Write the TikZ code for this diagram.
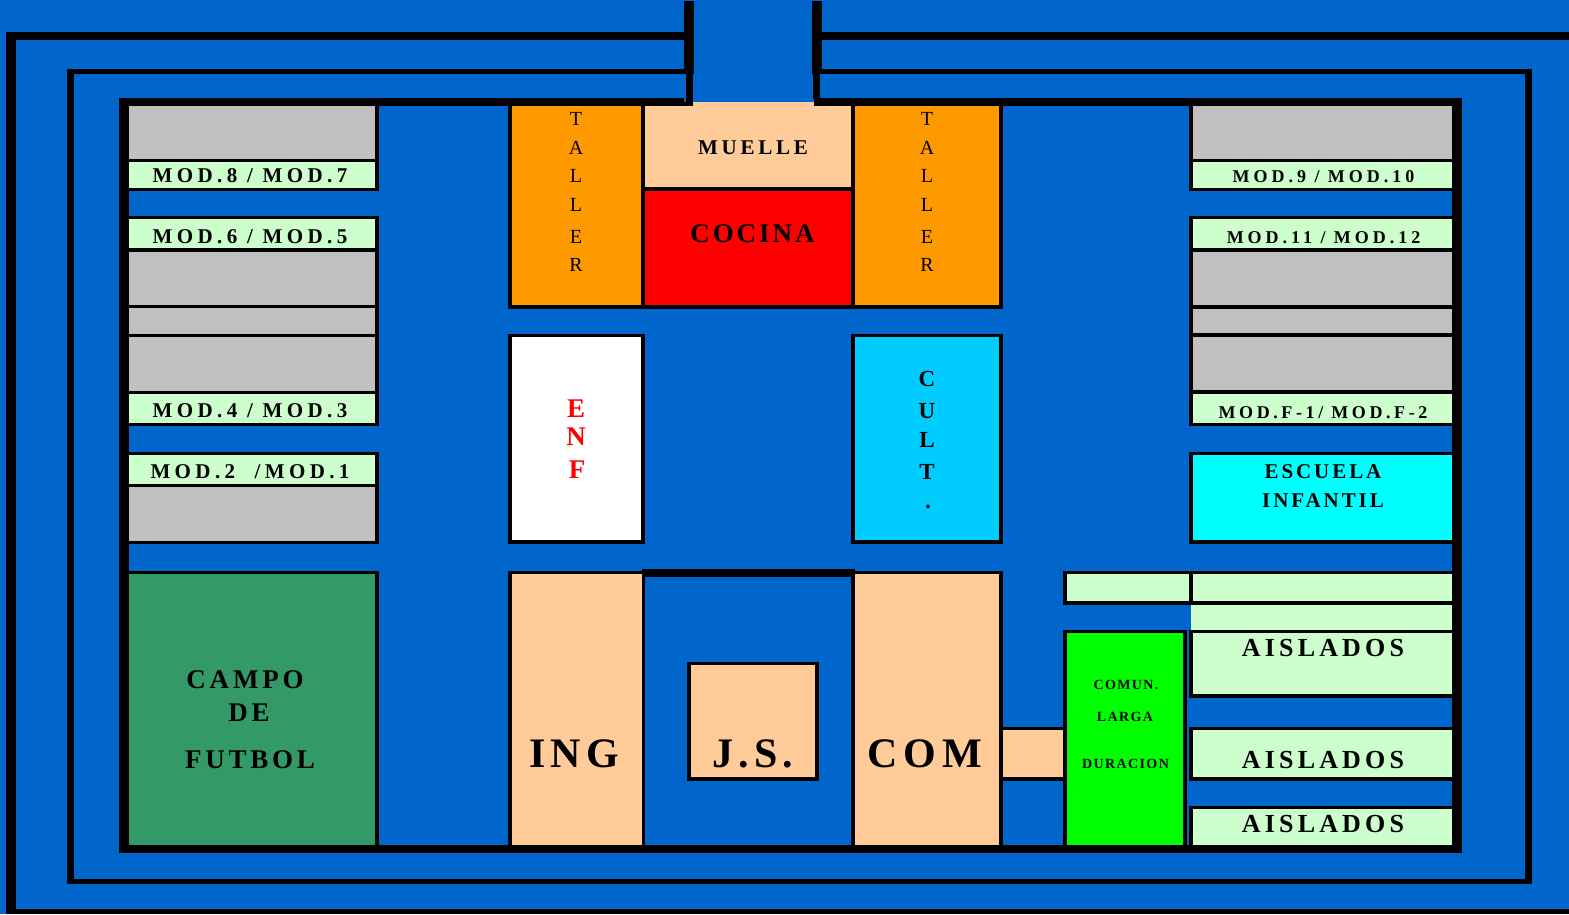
\documentclass[tikz,border=0pt]{standalone}
\usepackage{fontspec}
\setmainfont{Liberation Serif}
\definecolor{patio}{HTML}{0066CC}
\definecolor{gris}{HTML}{C0C0C0}
\definecolor{menta}{HTML}{CCFFCC}
\definecolor{naranja}{HTML}{FF9900}
\definecolor{melocoton}{HTML}{FFCC99}
\definecolor{cesped}{HTML}{339966}
\definecolor{celeste}{HTML}{00CCFF}
\definecolor{cian}{HTML}{00FFFF}
\definecolor{lima}{HTML}{00FF00}
\tikzset{
  rot/.style 2 args={font=\fontsize{#1}{#1}\selectfont\bfseries\addfontfeature{LetterSpace=#2},
    anchor=base,inner sep=0pt},
  fino/.style={font=\fontsize{20}{20}\selectfont,anchor=base,inner sep=0pt}
}
\begin{document}
\begin{tikzpicture}[x=1pt,y=-1pt]
\useasboundingbox (0,0) rectangle (1569,914);
\fill[patio] (0,0) rectangle (1569,914);

% muros
\fill[black] (6,32) rectangle (1569,914);
\fill[patio] (16,40) rectangle (1569,909);
\fill[black] (67,69) rectangle (1532,884);
\fill[patio] (74,74) rectangle (1525,879);
\fill[black] (119,98) rectangle (1462,853);
\fill[patio] (129,106) rectangle (1452,845);
\fill[patio] (684,0) rectangle (822,102);
\foreach \xa/\ya/\xb/\yb in {684/1/694/74, 686/74/693/106, 812/1/822/74, 813/74/820/99, 814/98/822/106}
  \fill[black] (\xa,\ya) rectangle (\xb,\yb);

% pabellones, primero en negro
\foreach \xa/\ya/\xb/\yb in {
  125/106/379/191, 125/216/379/426, 125/452/379/544, 125/571/379/849,
  1189/159/1456/191, 1189/216/1456/426, 1189/452/1456/544, 1189/106/1193/159,
  508/102/693/309, 814/102/1003/309, 693/106/814/309, 508/334/645/544, 851/334/1003/544,
  508/571/645/849, 642/569/855/577, 851/571/1003/849, 687/662/819/781,
  1003/727/1063/781, 1063/571/1193/605, 1189/571/1456/605,
  1063/630/1187/849, 1189/630/1456/698, 1189/727/1456/781, 1189/806/1456/849}
  \fill[black] (\xa,\ya) rectangle (\xb,\yb);

% relleno
\foreach \xa/\ya/\xb/\yb/\col in {
  129/106/375/159/gris, 129/162/375/188/menta,
  129/219/375/248/menta, 129/252/375/305/gris, 129/308/375/334/gris, 129/337/375/391/gris, 129/394/375/423/menta,
  129/455/375/484/menta, 129/487/375/541/gris, 129/574/375/845/cesped,
  1193/106/1452/159/gris, 1193/162/1452/188/menta,
  1193/219/1452/248/menta, 1193/252/1452/305/gris, 1193/309/1452/333/gris, 1193/337/1452/390/gris, 1193/394/1452/423/menta,
  1193/455/1452/540/cian,
  512/106/641/305/naranja, 855/106/999/305/naranja,
  645/106/851/187/melocoton, 693/102/814/106/melocoton, 645/191/851/305/red,
  512/337/641/540/white, 855/337/999/540/celeste,
  512/574/642/845/melocoton, 855/574/999/845/melocoton, 691/665/815/777/melocoton, 1003/730/1063/777/melocoton,
  1067/574/1189/601/menta, 1193/574/1452/601/menta, 1191/605/1452/630/menta,
  1067/633/1183/845/lima,
  1193/633/1452/694/menta, 1193/730/1452/777/menta, 1193/809/1452/845/menta}
  \fill[\col] (\xa,\ya) rectangle (\xb,\yb);

% modulos
\node (mod87) [rot={21}{21}] at (250,182) {MOD.8 / MOD.7};
\node (mod65) [rot={21}{21}] at (250,243) {MOD.6 / MOD.5};
\node (mod43) [rot={21}{21}] at (250,417) {MOD.4 / MOD.3};
\node (mod21) [rot={21}{21}] at (250,478) {MOD.2 \ /MOD.1};
\node (mod910) [rot={18}{22}] at (1323.5,182) {MOD.9 / MOD.10};
\node (mod1112) [rot={18}{22}] at (1323.5,243) {MOD.11 / MOD.12};
\node (modf) [rot={18}{20}] at (1323,418) {MOD.F-1/ MOD.F-2};
\node (esc) [rot={21}{14}] at (1323,478) {ESCUELA};
\node (inf) [rot={21}{14}] at (1323,507) {INFANTIL};

% centro
\foreach \x/\n in {576/a,927/b}{
  \node (tal\n1) [fino] at (\x,125) {T};
  \node (tal\n2) [fino] at (\x,154) {A};
  \node (tal\n3) [fino] at (\x,182) {L};
  \node (tal\n4) [fino] at (\x,211) {L};
  \node (tal\n5) [fino] at (\x,243) {E};
  \node (tal\n6) [fino] at (\x,271) {R};
}
\node (muelle) [rot={21}{18}] at (753,154) {MUELLE};
\node (cocina) [rot={27}{11}] at (752.5,242) {COCINA};
\node (enf1) [rot={27}{0},text=red] at (576,417) {E};
\node (enf2) [rot={27}{0},text=red] at (576,445) {N};
\node (enf3) [rot={27}{0},text=red] at (577,478) {F};
\node (cult1) [rot={23}{0}] at (927,386) {C};
\node (cult2) [rot={23}{0}] at (927,418) {U};
\node (cult3) [rot={23}{0}] at (927,447) {L};
\node (cult4) [rot={23}{0}] at (927,479) {T};
\node (cult5) [rot={23}{0}] at (928,508) {.};

% abajo
\node (campo) [rot={27}{14}] at (245,688) {CAMPO};
\node (de) [rot={27}{14}] at (249,721) {DE};
\node (futbol) [rot={27}{14}] at (250,768) {FUTBOL};
\node (ing) [rot={42}{12}] at (574,767) {ING};
\node (js) [rot={42}{12}] at (753,767) {J.S.};
\node (com) [rot={42}{14}] at (924.5,767) {COM};
\node (comun) [rot={14}{10}] at (1126,689) {COMUN.};
\node (larga) [rot={14}{10}] at (1125,721) {LARGA};
\node (durac) [rot={14}{10}] at (1125.5,768) {DURACION};
\node (ais1) [rot={26}{16}] at (1323,656) {AISLADOS};
\node (ais2) [rot={26}{16}] at (1323,768) {AISLADOS};
\node (ais3) [rot={26}{16}] at (1323,832) {AISLADOS};
\end{tikzpicture}
\end{document}
